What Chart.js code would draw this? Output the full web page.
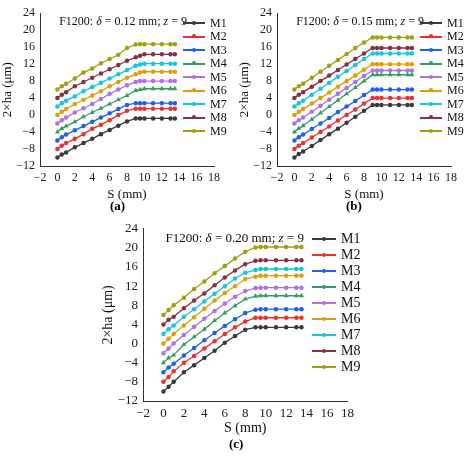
<!DOCTYPE html><html><head><meta charset="utf-8">
<script src="https://cdn.jsdelivr.net/npm/chart.js@4"></script>
<style>
body{margin:0;background:#fff;width:474px;height:457px;position:relative;overflow:hidden;font-family:"Liberation Serif",serif}
canvas{position:absolute}
.lg{position:absolute;font-family:"Liberation Serif",serif;color:#111}
.lg span.l{position:absolute;height:2px}
.lg span.t{position:absolute}
.cap{position:absolute;font-family:"Liberation Serif",serif;font-size:13px;font-weight:bold}
</style></head><body>
<canvas id="ca" style="left:0;top:4px;width:222px;height:198px"></canvas>
<canvas id="cb" style="left:237px;top:4px;width:222px;height:198px"></canvas>
<canvas id="cc" style="left:100px;top:219px;width:256px;height:218px"></canvas>
<div class="cap" style="left:110px;top:198px">(a)</div>
<div class="cap" style="left:346px;top:198px">(b)</div>
<div class="cap" style="left:229px;top:436px">(c)</div>
<script>
const S=[0,0.5,1,2,3,4,5,6,7,8,9,9.5,10,11,12,13,13.5];
const names=['M1','M2','M3','M4','M5','M6','M7','M8','M9'];
const colors=['#3a3a3a','#f03030','#2060f0','#30a060','#b070f0','#e0a000','#10c8e0','#8a3040','#a0a010'];
const A_M1=[-10,-9.3,-8.8,-7.6,-6.6,-5.6,-4.5,-3.5,-2.5,-1.5,-0.8,-0.8,-0.8,-0.8,-0.8,-0.8,-0.8];
const A_M2=[-8,-7.2,-6.6,-5.6,-4.5,-3.2,-2.3,-1.2,0,1,1.5,1.5,1.5,1.5,1.5,1.5,1.5];
const A_M3=[-6,-5.2,-4.6,-3.6,-2.6,-1.6,-0.6,0.4,1.4,2.4,2.8,2.8,2.8,2.8,2.8,2.8,2.8];
const A_M4=[-4,-3.2,-2.6,-1.6,-0.4,0.6,1.6,2.6,3.6,4.6,5.8,6,6.2,6.2,6.2,6.2,6.2];
const A_M5=[-2,-1.2,-0.6,0.6,1.6,2.6,3.8,5,6,7,7.8,8,8,8,8,8,8];
const A_M6=[0,0.8,1.4,2.6,3.6,4.6,5.6,6.8,7.8,8.8,9.6,10,10.2,10.2,10.2,10.2,10.2];
const A_M7=[2,2.8,3.4,4.4,5.6,6.6,7.6,8.6,9.6,10.6,11.6,11.9,12.1,12.1,12.1,12.1,12.1];
const A_M8=[4,4.8,5.4,6.8,7.8,8.8,9.8,10.8,11.8,12.8,13.6,14,14.3,14.3,14.3,14.3,14.3];
const A_M9=[6,6.8,7.4,8.6,10,11,12.2,13.2,14.2,15.8,16.6,16.7,16.7,16.7,16.7,16.7,16.7];
const B_M1=[-10,-9.2,-8.6,-7.3,-5.9,-4.5,-3.2,-1.8,-0.4,1,2.4,2.4,2.4,2.4,2.4,2.4,2.4];
const B_M2=[-8,-7.2,-6.6,-5.3,-4,-2.7,-1.3,0,1.3,2.7,4,4,4,4,4,4,4];
const B_M3=[-6,-5.2,-4.6,-3.3,-2,-0.7,0.7,2,3.3,4.7,6,6,6,6,6,6,6];
const B_M4=[-4,-3.2,-2.5,-1,0.5,2,3.5,5,6.5,8,9.5,9.5,9.5,9.5,9.5,9.5,9.5];
const B_M5=[-2,-1.2,-0.6,0.8,2.2,3.6,5,6.4,7.8,9.2,10.5,10.5,10.5,10.5,10.5,10.5,10.5];
const B_M6=[0,0.8,1.4,2.7,4,5.3,6.7,8,9.3,10.7,12,12,12,12,12,12,12];
const B_M7=[2,2.8,3.4,4.8,6.2,7.6,9,10.4,11.8,13.2,14.5,14.5,14.5,14.5,14.5,14.5,14.5];
const B_M8=[4,4.8,5.4,6.7,8,9.3,10.6,11.9,13.2,14.5,15.8,15.8,15.8,15.8,15.8,15.8,15.8];
const B_M9=[6,6.8,7.4,8.8,10.2,11.6,13,14.4,15.8,17.1,18.3,18.3,18.3,18.3,18.3,18.3,18.3];
const C_M1=[-10,-9,-8,-6,-4.5,-3,-1.5,0.2,1.6,2.9,3.4,3.4,3.4,3.4,3.4,3.4,3.4];
const C_M2=[-8,-7,-5.8,-4,-2.6,-1,0.5,2,3.4,4.6,5.4,5.4,5.4,5.4,5.4,5.4,5.4];
const C_M3=[-6,-5,-4.2,-2.5,-0.9,0.7,2.2,3.7,5.1,6.4,7.1,7.2,7.2,7.2,7.2,7.2,7.2];
const C_M4=[-4,-3,-2.4,-0.2,1.4,3,4.8,6.4,7.9,9.3,9.9,10,10,10,10,10,10];
const C_M5=[-2,-1,0,1.8,3.5,5.2,6.8,8.4,9.8,11,11.6,11.7,11.7,11.7,11.7,11.7,11.7];
const C_M6=[0,1,2,3.8,5.5,7.3,9,10.6,12,13.5,14,14.2,14.2,14.2,14.2,14.2,14.2];
const C_M7=[2,3,3.8,5.6,7.2,8.8,10.4,12,13.6,14.8,15.4,15.6,15.6,15.6,15.6,15.6,15.6];
const C_M8=[4,5,5.6,7.4,9,10.5,12.2,13.8,15.3,16.6,17.3,17.4,17.4,17.4,17.4,17.4,17.4];
const C_M9=[6,7,8,9.6,11.4,13,14.7,16.2,17.8,19.2,20.1,20.2,20.2,20.2,20.2,20.2,20.2];
const yTicks=[-12,-8,-4,0,4,8,12,16,20,24];
const xTicks=[-2,0,2,4,6,8,10,12,14,16,18];

function make(id,series,note,yw,fs){
  const notePlugin={id:'note',afterDraw(ch){const c=ch.ctx,a=ch.chartArea;c.save();c.fillStyle='#111';
    c.textBaseline='top';
    const parts=[['F1200: ',''],['δ','italic '],[' = '+note+' mm; ',''],['z','italic '],[' = 9','']];
    let x=a.left+(a.right-a.left)*0.11;const y=a.top+3;
    for(const[p,st] of parts){c.font=st+fs+'px "Liberation Serif"';c.fillText(p,x,y);x+=c.measureText(p).width;}
    c.restore();}};
  new Chart(document.getElementById(id),{type:'line',
    data:{datasets:series.map((d,i)=>({label:names[i],data:S.map((s,j)=>({x:s,y:d[j]})),borderColor:colors[i],backgroundColor:colors[i],borderWidth:1.3,pointRadius:1.6,pointStyle:i===3?'triangle':'circle',tension:0}))},
    options:{responsive:false,animation:false,layout:{padding:{top:8,right:4}},
      plugins:{legend:{display:false},tooltip:{enabled:false}},
      scales:{
        x:{type:'linear',min:-2,max:18,afterBuildTicks(ax){ax.ticks=xTicks.map(v=>({value:v}));},
          grid:{display:false,drawTicks:true,tickLength:3},border:{color:'#333',width:1},
          ticks:{color:'#222',font:{family:'Liberation Serif',size:fs},padding:2,maxRotation:0,autoSkip:false,callback:v=>String(v).replace('-','−')},
          title:{display:true,text:'S (mm)',color:'#111',font:{family:'Liberation Serif',size:fs+1},padding:{top:2,bottom:0}},
          afterFit(ax){ax.height=36;}},
        y:{min:-12,max:24,afterBuildTicks(ax){ax.ticks=yTicks.map(v=>({value:v}));},
          grid:{display:false,drawTicks:true,tickLength:3},border:{color:'#333',width:1},
          ticks:{color:'#222',font:{family:'Liberation Serif',size:fs},padding:2,autoSkip:false,callback:v=>String(v).replace('-','−')},
          title:{display:true,text:'2×ha (μm)',color:'#111',font:{family:'Liberation Serif',size:fs+1},padding:0},
          afterFit(ax){ax.width=yw;}}}},
    plugins:[notePlugin]});
}
function legend(left,top,gap,fs,lw){
  const d=document.createElement('div');d.className='lg';d.style.left=left+'px';d.style.top=top+'px';
  names.forEach((n,i)=>{const r=document.createElement('div');r.style.top=(i*gap)+'px';r.style.position='absolute';
    r.innerHTML=`<span class="l" style="left:0;top:-1px;width:${lw}px;background:${colors[i]}"></span><span style="position:absolute;left:${lw/2-2}px;top:-2.5px;width:4px;height:4px;border-radius:2px;background:${colors[i]}"></span><span class="t" style="left:${lw+5}px;top:${-fs*0.6}px;font-size:${fs}px;white-space:nowrap">${n}</span>`;
    d.appendChild(r);});
  document.body.appendChild(d);
}
make('ca',[A_M1,A_M2,A_M3,A_M4,A_M5,A_M6,A_M7,A_M8,A_M9],'0.12',40,12);
make('cb',[B_M1,B_M2,B_M3,B_M4,B_M5,B_M6,B_M7,B_M8,B_M9],'0.15',40,12);
make('cc',[C_M1,C_M2,C_M3,C_M4,C_M5,C_M6,C_M7,C_M8,C_M9],'0.20',43,13);
legend(183,23,13.5,12,22);
legend(420,23,13.5,12,22);
legend(312,239,16,14,24);
</script></body></html>
